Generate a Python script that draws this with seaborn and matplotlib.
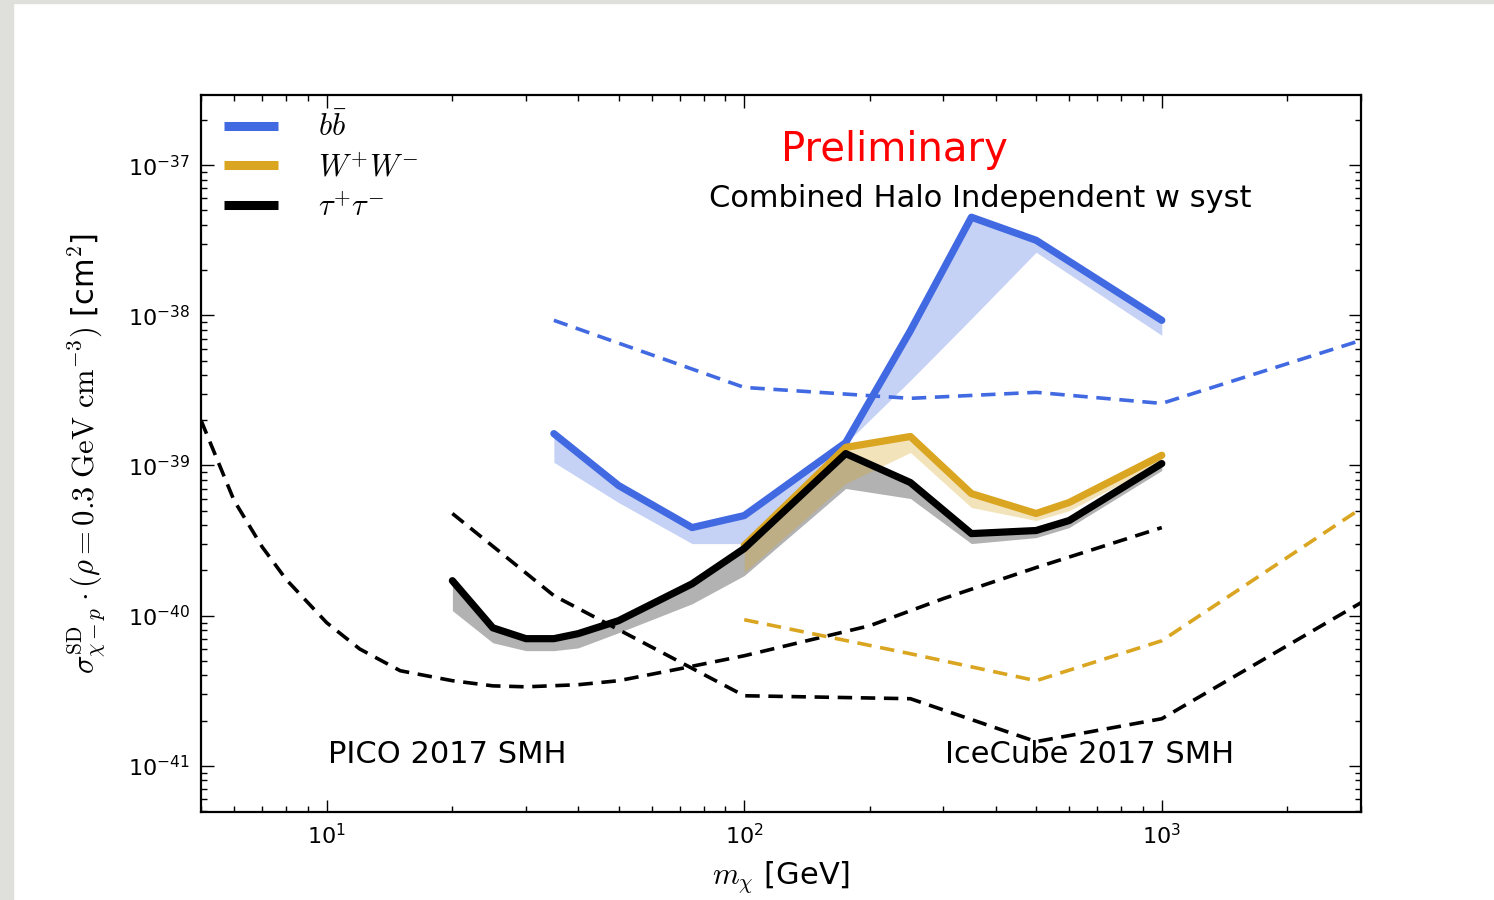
import numpy as np
import pandas as pd
import matplotlib
matplotlib.use("Agg")
import matplotlib.pyplot as plt
from matplotlib.patches import Rectangle
import seaborn as sns

# ---------------- data ----------------
mass_bb = [35, 50, 75, 100, 175, 250, 350, 500, 1000]
sig_bb = [1.63e-39, 7.36e-40, 3.86e-40, 4.64e-40, 1.42e-39, 7.9e-39, 4.5e-38, 3.16e-38, 9.26e-39]
sig_bb_low = [1.05e-39, 5.67e-40, 3.02e-40, 3.02e-40, 1.40e-39, 3.69e-39, 9.5e-39, 2.63e-38, 7.36e-39]

mass_ww = [100, 175, 250, 350, 500, 600, 1000]
sig_ww = [2.93e-40, 1.32e-39, 1.56e-39, 6.5e-40, 4.79e-40, 5.67e-40, 1.17e-39]
sig_ww_low = [1.94e-40, 7.59e-40, 1.22e-39, 5.25e-40, 4.3e-40, 5.0e-40, 1.05e-39]

mass_tt = [20, 25, 30, 35, 40, 50, 75, 100, 175, 250, 350, 500, 600, 1000]
sig_tt = [1.71e-40, 8.3e-41, 7.03e-41, 7.03e-41, 7.59e-41, 9.26e-41, 1.63e-40, 2.8e-40,
          1.2e-39, 7.7e-40, 3.52e-40, 3.69e-40, 4.3e-40, 1.03e-39]
sig_tt_low = [1.08e-40, 6.6e-41, 5.85e-41, 5.85e-41, 6.1e-41, 7.7e-41, 1.2e-40, 1.85e-40,
              7.03e-40, 6.03e-40, 3.02e-40, 3.31e-40, 3.86e-40, 9.26e-40]

mass_ic_bb = [35, 100, 250, 500, 1000, 3000]
sig_ic_bb = [9.26e-39, 3.31e-39, 2.8e-39, 3.07e-39, 2.59e-39, 6.81e-39]

mass_ic_ww = [100, 250, 500, 1000, 3000]
sig_ic_ww = [9.4e-41, 5.58e-41, 3.69e-41, 6.81e-41, 5.17e-40]

mass_ic_tt = [20, 35, 100, 250, 500, 1000, 3000]
sig_ic_tt = [4.79e-40, 1.36e-40, 2.93e-41, 2.8e-41, 1.45e-41, 2.06e-41, 1.22e-40]

mass_pico = [5, 6, 7, 8, 10, 12, 15, 20, 25, 30, 40, 50, 70, 100, 200, 300, 500, 1000]
sig_pico = [2.0e-39, 5.85e-40, 2.88e-40, 1.74e-40, 8.98e-41, 6.0e-41, 4.3e-41, 3.69e-41,
            3.41e-41, 3.36e-41, 3.47e-41, 3.69e-41, 4.43e-41, 5.41e-41, 8.58e-41,
            1.3e-40, 2.09e-40, 3.86e-40]

labels = [r"$b\bar{b}$", r"$W^{+}W^{-}$", r"$\tau^{+}\tau^{-}$"]
x_ticks = [10, 100, 1000]
y_ticks = [1e-41, 1e-40, 1e-39, 1e-38, 1e-37]
# -----------------------------------------------------------------

BLUE = "royalblue"
GOLD = "goldenrod"
BLACK = "black"

sns.set_style("ticks")
plt.rcParams.update({
    "font.family": ["DejaVu Sans"],
    "mathtext.fontset": "cm",
    "text.color": "black",
    "axes.labelcolor": "black",
    "xtick.color": "black",
    "ytick.color": "black",
    "xtick.direction": "in",
    "ytick.direction": "in",
    "xtick.top": True,
    "ytick.right": True,
    "xtick.major.size": 9,
    "ytick.major.size": 9,
    "xtick.minor.size": 4.5,
    "ytick.minor.size": 4.5,
    "xtick.major.width": 1.0,
    "ytick.major.width": 1.0,
    "xtick.minor.width": 1.0,
    "ytick.minor.width": 1.0,
    "axes.linewidth": 1.6,
    "axes.edgecolor": "black",
})

fig = plt.figure(figsize=(14.94, 9.0), dpi=100)
ax = fig.add_axes([201/1494, 1 - 812/900, (1361-201)/1494, (812-95)/900])

dash = (0, (4, 2.4))
dlw = 2.6
slw = 5.2

def line(m, s, color, lw, ls="-", z=3):
    df = pd.DataFrame({"m": m, "s": s})
    sns.lineplot(data=df, x="m", y="s", ax=ax, color=color, lw=lw, linestyle=ls,
                 sort=False, estimator=None, zorder=z, legend=False)

# dashed limits
line(mass_pico, sig_pico, BLACK, dlw, dash, z=2)
line(mass_ic_tt, sig_ic_tt, BLACK, dlw, dash, z=2)
line(mass_ic_ww, sig_ic_ww, GOLD, dlw, dash, z=2)
line(mass_ic_bb, sig_ic_bb, BLUE, dlw, dash, z=2)

# bands
ax.fill_between(mass_bb, sig_bb_low, sig_bb, color=BLUE, alpha=0.3, lw=0, zorder=1)
ax.fill_between(mass_tt, sig_tt_low, sig_tt, color=BLACK, alpha=0.3, lw=0, zorder=1)
ax.fill_between(mass_ww, sig_ww_low, sig_ww, color=GOLD, alpha=0.3, lw=0, zorder=1)

# solid combined limits
line(mass_bb, sig_bb, BLUE, slw, z=4)
line(mass_ww, sig_ww, GOLD, slw, z=4)
line(mass_tt, sig_tt, BLACK, slw, z=5)

ax.set_xscale("log")
ax.set_yscale("log")
ax.set_xlim(5, 3000)
ax.set_ylim(4.93e-42, 2.93e-37)
ax.set_xticks(x_ticks)
ax.set_yticks(y_ticks)

ax.tick_params(axis="both", which="major", labelsize=16, pad=8)

ax.set_xlabel(r"$m_\chi$ [GeV]", fontsize=22, labelpad=8)
ax.set_ylabel(r"$\sigma^{\rm SD}_{\chi-p}\cdot(\rho=0.3\ {\rm GeV\ cm^{-3}})$ [cm$^2$]",
              fontsize=22, labelpad=14)

handles = [plt.Line2D([], [], color=c, lw=6.5, solid_capstyle="butt") for c in (BLUE, GOLD, BLACK)]
leg = ax.legend(handles, labels, loc="upper left", frameon=False, fontsize=22,
                handlelength=1.75, handletextpad=1.3, labelspacing=0.35,
                borderaxespad=0.0, bbox_to_anchor=(0.0097, 0.994))

ax.text(0.598, 0.923, "Preliminary", transform=ax.transAxes, color="red",
        fontsize=29, ha="center", va="center")
ax.text(0.672, 0.855, "Combined Halo Independent w syst", transform=ax.transAxes,
        fontsize=22, ha="center", va="center")
ax.text(0.212, 0.0795, "PICO 2017 SMH", transform=ax.transAxes,
        fontsize=22, ha="center", va="center")
ax.text(0.766, 0.0795, "IceCube 2017 SMH", transform=ax.transAxes,
        fontsize=22, ha="center", va="center")

# screenshot frame
fig.patches.append(Rectangle((0, 0), 13/1494, 1, transform=fig.transFigure,
                             color="#dfdfdb", zorder=-10))
fig.patches.append(Rectangle((0, 1 - 3/900), 1, 3/900, transform=fig.transFigure,
                             color="#dfdfdb", zorder=-10))

fig.savefig("out.png", dpi=100)
